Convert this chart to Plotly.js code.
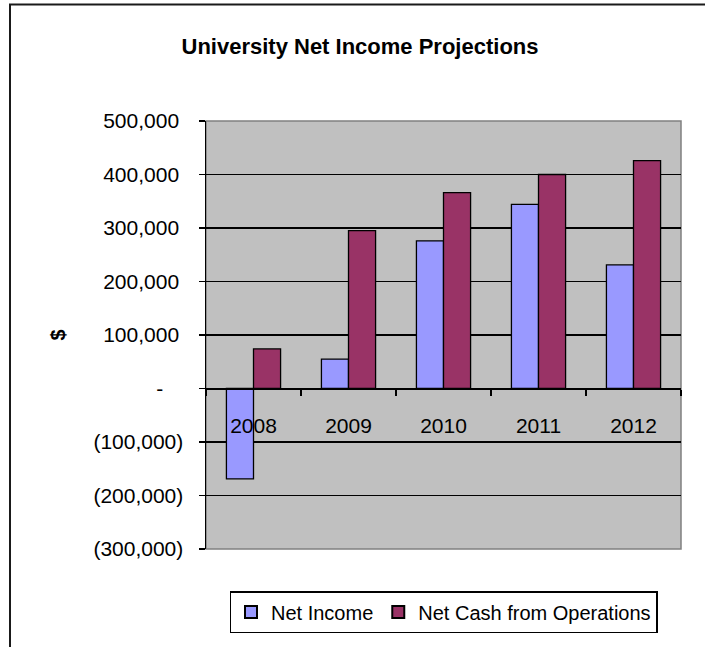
<!DOCTYPE html>
<html>
<head>
<meta charset="utf-8">
<script src="https://cdn.plot.ly/plotly-3.0.1.min.js"></script>
<style>
  html, body { margin: 0; padding: 0; background: #ffffff; }
  #chart { width: 705px; height: 647px; }
</style>
</head>
<body>
<div id="chart"></div>
<script>
// ---- data ----
const years = ["2008", "2009", "2010", "2011", "2012"];
const netIncome = [-169000, 55000, 276000, 344000, 231000];
const netCashOps = [74000, 295000, 366000, 400000, 426000];
const yTickVals = [-300000, -200000, -100000, 0, 100000, 200000, 300000, 400000, 500000];
const yTickText = ["(300,000)", "(200,000)", "(100,000)", "-\u2007\u2009\u2009", "100,000\u2009", "200,000\u2009", "300,000\u2009", "400,000\u2009", "500,000\u2009"];
const seriesNames = ["Net Income", "Net Cash from Operations"];
const chartTitle = "University Net Income Projections";
const yTitle = "$";

// ---- layout helpers ----
const yMin = -300000, yMax = 500000;
const FONT = "Liberation Sans, Arial, Helvetica, sans-serif";
const zeroPos = (0 - yMin) / (yMax - yMin);

const traces = [
  {
    type: "bar", name: seriesNames[0], x: years, y: netIncome,
    marker: { color: "#9999FF", line: { color: "#000000", width: 1.3 } },
    hoverinfo: "x+y"
  },
  {
    type: "bar", name: seriesNames[1], x: years, y: netCashOps,
    marker: { color: "#993366", line: { color: "#000000", width: 1.3 } },
    hoverinfo: "x+y"
  }
];

const layout = {
  width: 705, height: 647,
  margin: { l: 206, r: 24, t: 121, b: 98, pad: 0 },
  paper_bgcolor: "#ffffff",
  plot_bgcolor: "#C0C0C0",
  font: { family: FONT, size: 21, color: "#000000" },
  title: {
    text: chartTitle,
    font: { family: FONT, size: 22, color: "#000000", weight: "bold" },
    xref: "container", yref: "container",
    x: 360 / 705, xanchor: "center",
    y: 1 - 46 / 647, yanchor: "middle"
  },
  barmode: "group",
  bargap: 0.43,
  bargroupgap: 0,
  xaxis: {
    type: "category",
    range: [-0.5, 4.5],
    anchor: "free",
    position: zeroPos,
    showline: true, linecolor: "#000000", linewidth: 1.5,
    showgrid: false, zeroline: false,
    ticks: "outside", ticklen: 6, tickwidth: 1.3, tickcolor: "#000000",
    tickson: "boundaries",
    ticklabelstandoff: 18,
    tickfont: { family: FONT, size: 21, color: "#000000" },
    fixedrange: true
  },
  yaxis: {
    range: [yMin, yMax],
    tickvals: yTickVals,
    ticktext: yTickText,
    showline: true, linecolor: "#000000", linewidth: 1.5,
    showgrid: true, gridcolor: "#000000", gridwidth: 1.3,
    zeroline: false,
    ticks: "outside", ticklen: 6, tickwidth: 1.3, tickcolor: "#000000",
    ticklabelstandoff: 11,
    tickfont: { family: FONT, size: 21, color: "#000000" },
    title: { text: yTitle, font: { family: FONT, size: 20, color: "#000000", weight: "bold" }, standoff: 22 },
    automargin: false,
    fixedrange: true
  },
  showlegend: true,
  legend: {
    orientation: "h",
    x: 0.5, xanchor: "center",
    y: -(591 - 549) / 428, yanchor: "top",
    bordercolor: "#000000", borderwidth: 1.5,
    bgcolor: "#ffffff",
    font: { family: FONT, size: 20, color: "#000000" },
    itemsizing: "constant"
  },
  shapes: [
    // gray frame of the plot area
    { type: "rect", xref: "x domain", yref: "y domain", x0: 0, x1: 1, y0: 0, y1: 1,
      line: { color: "#808080", width: 1.5 }, layer: "below" },
    // outer chart border
    { type: "rect", xref: "paper", yref: "paper",
      x0: (10 - 206) / 475, x1: (712 - 206) / 475,
      y0: (549 - 655) / 428, y1: (549 - 4.5) / 428,
      line: { color: "#1a1a1a", width: 2 } }
  ]
};

Plotly.newPlot("chart", traces, layout, { displayModeBar: false, staticPlot: true });
</script>
</body>
</html>
